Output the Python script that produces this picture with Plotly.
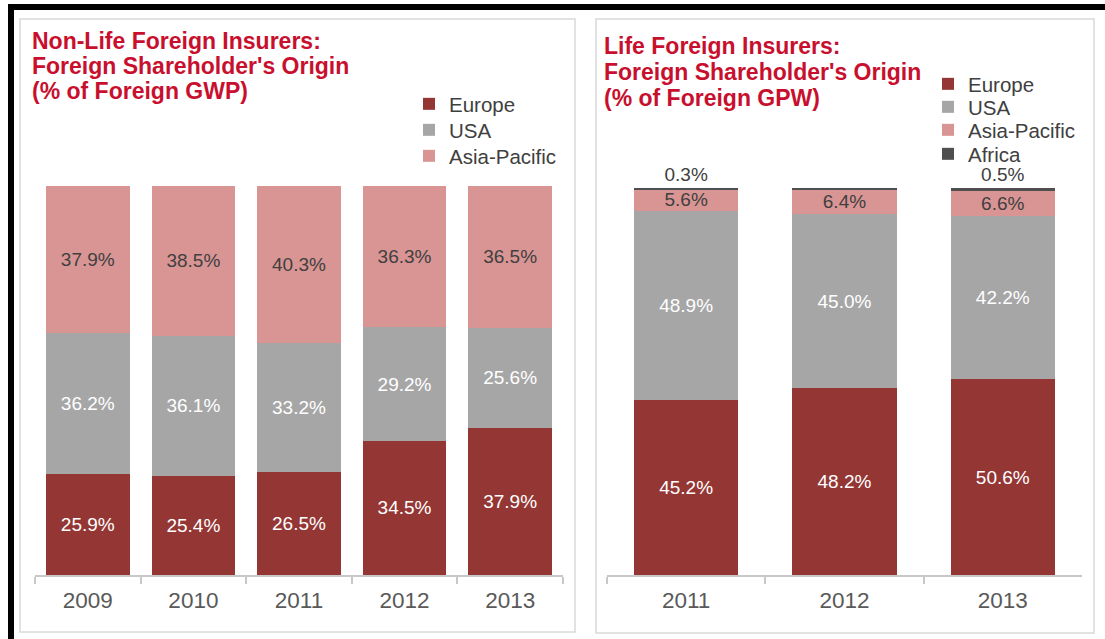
import plotly.graph_objects as go

# ---- data ----
nonlife_years = ["2009", "2010", "2011", "2012", "2013"]
nonlife_europe = [25.9, 25.4, 26.5, 34.5, 37.9]
nonlife_usa = [36.2, 36.1, 33.2, 29.2, 25.6]
nonlife_asia = [37.9, 38.5, 40.3, 36.3, 36.5]

life_years = ["2011", "2012", "2013"]
life_europe = [45.2, 48.2, 50.6]
life_usa = [48.9, 45.0, 42.2]
life_asia = [5.6, 6.4, 6.6]
life_africa = [0.3, 0.4, 0.5]

COL_EUROPE = "#943634"
COL_USA = "#A6A6A6"
COL_ASIA = "#D99594"
COL_AFRICA = "#4F4F4F"
TITLE_RED = "#C8102E"
FONT = "Liberation Sans, Arial, sans-serif"

W, H = 1105, 639


def px(x):
    return x / W


def py(y):
    return 1 - y / H


fig = go.Figure()


def add_bar(x, y, name, color, txtcolor, xa, ya, legend, width, pos="inside"):
    fig.add_trace(go.Bar(
        x=x, y=y, name=name, marker=dict(color=color, line=dict(width=0)),
        xaxis=xa, yaxis=ya, legend=legend, width=width, showlegend=True,
        text=[f"{v:.1f}%" for v in y], textposition=pos,
        insidetextanchor="middle", constraintext="none", cliponaxis=False,
        textfont=dict(family=FONT, size=19, color=txtcolor),
        hoverinfo="x+y+name",
    ))


# left chart (one legend per entry so each item can be placed)
add_bar(nonlife_years, nonlife_europe, "Europe", COL_EUROPE, "white", "x", "y", "legend", 0.79)
add_bar(nonlife_years, nonlife_usa, "USA", COL_USA, "white", "x", "y", "legend2", 0.79)
add_bar(nonlife_years, nonlife_asia, "Asia-Pacific", COL_ASIA, "#404040", "x", "y", "legend3", 0.79)

# right chart
add_bar(life_years, life_europe, "Europe", COL_EUROPE, "white", "x2", "y2", "legend4", 0.66)
add_bar(life_years, life_usa, "USA", COL_USA, "white", "x2", "y2", "legend5", 0.66)
add_bar(life_years, life_asia, "Asia-Pacific", COL_ASIA, "#404040", "x2", "y2", "legend6", 0.66)
add_bar(life_years, life_africa, "Africa", COL_AFRICA, "#404040", "x2", "y2", "legend7", 0.66,
        pos="outside")

xaxis_style = dict(
    type="category", showline=True, linecolor="#C8C8C8", linewidth=1.5,
    ticks="outside", tickson="boundaries", ticklen=7, tickcolor="#C8C8C8",
    tickwidth=1.5, showgrid=False, zeroline=False, ticklabelstandoff=4,
    tickfont=dict(family=FONT, size=22.5, color="#595959"), fixedrange=True,
)
yaxis_style = dict(visible=False, range=[0, 100], fixedrange=True)


def legend_at(xpix, ypix):
    return dict(
        x=px(xpix), y=py(ypix), xanchor="left", yanchor="middle",
        font=dict(family=FONT, size=20.5, color="#404040"),
        bgcolor="rgba(0,0,0,0)", itemclick=False, itemdoubleclick=False,
    )


annotations = []
for line, yy in zip(["Non-Life Foreign Insurers:", "Foreign Shareholder's Origin",
                     "(% of Foreign GWP)"], [41, 66, 91]):
    annotations.append(dict(
        text=f"<b>{line}</b>", x=px(30), y=py(yy), xref="paper", yref="paper",
        xanchor="left", yanchor="middle", showarrow=False,
        font=dict(family=FONT, size=23, color=TITLE_RED)))
for line, yy in zip(["Life Foreign Insurers:", "Foreign Shareholder's Origin",
                     "(% of Foreign GPW)"], [46, 72, 98]):
    annotations.append(dict(
        text=f"<b>{line}</b>", x=px(602), y=py(yy), xref="paper", yref="paper",
        xanchor="left", yanchor="middle", showarrow=False,
        font=dict(family=FONT, size=23, color=TITLE_RED)))
annotations.append(dict(
    text="Source: SIRC, Swiss Re", x=px(28), y=py(635), xref="paper", yref="paper",
    xanchor="left", yanchor="top", showarrow=False,
    font=dict(family=FONT, size=18, color="#595959")))

shapes = [
    # panel frames
    dict(type="rect", xref="paper", yref="paper", x0=px(20), x1=px(575),
         y0=py(19), y1=py(632), line=dict(color="#D9D9D9", width=1.5)),
    dict(type="rect", xref="paper", yref="paper", x0=px(596), x1=px(1094),
         y0=py(19), y1=py(633), line=dict(color="#D9D9D9", width=1.5)),
    # thick black page border
    dict(type="rect", xref="paper", yref="paper", x0=px(8), x1=px(14),
         y0=py(4), y1=py(660), fillcolor="black", line=dict(width=0)),
    dict(type="rect", xref="paper", yref="paper", x0=px(8), x1=px(1110),
         y0=py(4), y1=py(10), fillcolor="black", line=dict(width=0)),
]

fig.update_layout(
    width=W, height=H, margin=dict(l=0, r=0, t=0, b=0),
    paper_bgcolor="white", plot_bgcolor="white", barmode="stack",
    showlegend=True,
    xaxis=dict(domain=[px(35), px(563)], anchor="y", **xaxis_style),
    yaxis=dict(domain=[py(575), py(186)], anchor="x", **yaxis_style),
    xaxis2=dict(domain=[px(607), px(1082)], anchor="y2", **xaxis_style),
    yaxis2=dict(domain=[py(575), py(188)], anchor="x2", **yaxis_style),
    legend=legend_at(409, 104),
    legend2=legend_at(409, 130),
    legend3=legend_at(409, 156),
    legend4=legend_at(928, 84),
    legend5=legend_at(928, 107),
    legend6=legend_at(928, 130),
    legend7=legend_at(928, 154),
    annotations=annotations, shapes=shapes,
    font=dict(family=FONT),
)

# drop the browser's default page margin so the figure sits at the window corner
fig.write_html("out.html", config={"displayModeBar": False},
               post_script="document.body.style.margin='0';")
